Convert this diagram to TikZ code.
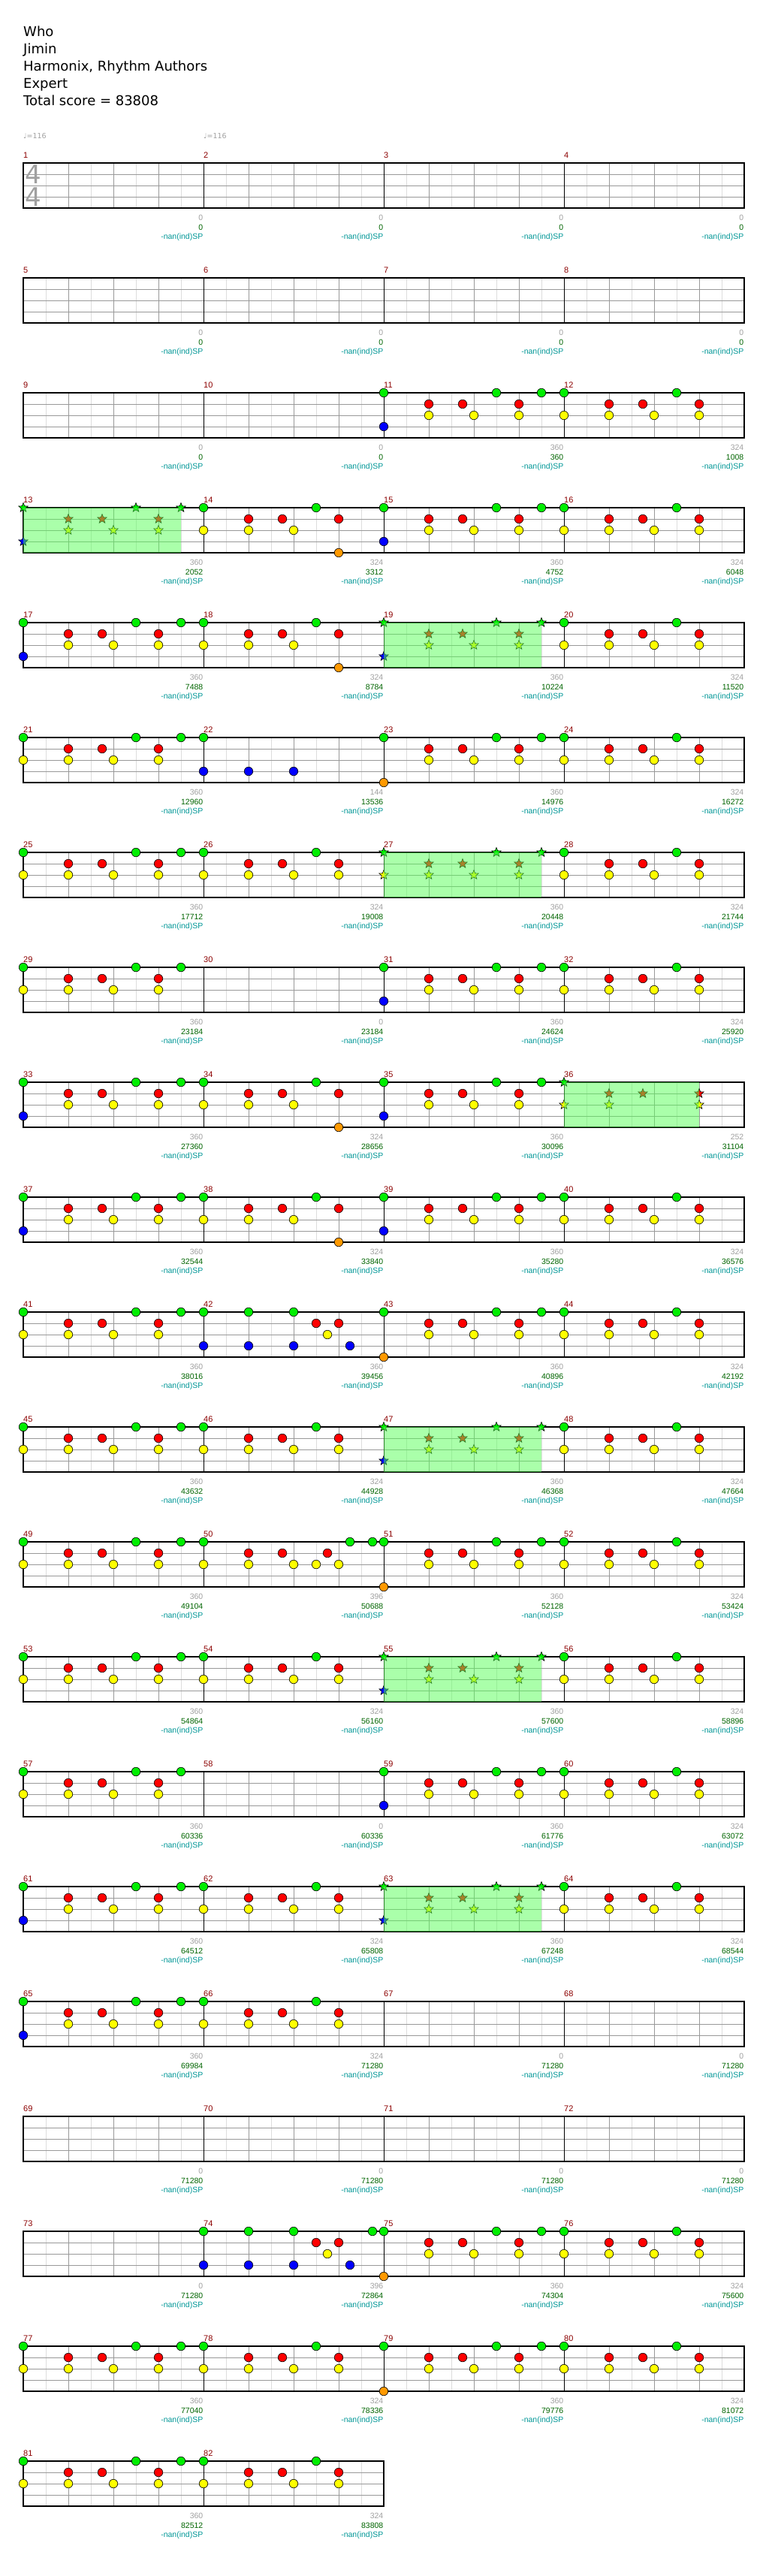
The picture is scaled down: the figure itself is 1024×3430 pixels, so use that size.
\documentclass[tikz,border=0pt]{standalone}
\usepackage{fontspec}
\setmainfont{DejaVu Sans}
\newfontfamily\numfont{Liberation Sans}
\usepackage{xcolor}
\definecolor{lane0}{RGB}{0,238,0}
\definecolor{lane1}{RGB}{255,0,0}
\definecolor{lane2}{RGB}{255,255,0}
\definecolor{lane3}{RGB}{0,0,255}
\definecolor{lane4}{RGB}{255,153,0}
\definecolor{bar-red}{RGB}{139,0,0}
\definecolor{base-gray}{RGB}{160,160,160}
\definecolor{score-green}{RGB}{0,100,0}
\definecolor{sp-teal}{RGB}{0,150,150}
\definecolor{sp-green}{RGB}{85,255,85}
\definecolor{beat-gray}{RGB}{153,153,153}
\definecolor{eighth-gray}{RGB}{221,221,221}
\usetikzlibrary{shapes.geometric}

% left end and top line of a measure
\newcommand{\setbar}[1]{%
	\pgfmathsetmacro\mx{31+240*mod(#1-1,4)}%
	\pgfmathsetmacro\my{217+153*int((#1-1)/4)}}

\begin{document}
\begin{tikzpicture}[x=1pt,y=-1pt,
	note/.style={circle,draw=black,line width=.6pt,minimum size=11.5pt,inner sep=0pt},
	spnote/.style={star,star points=5,star point ratio=2.3,draw=black,line width=.6pt,minimum size=13pt,inner sep=0pt},
	n0/.style={note,fill=lane0},  n1/.style={note,fill=lane1},
	n2/.style={note,fill=lane2},  n3/.style={note,fill=lane3},
	n4/.style={note,fill=lane4},
	s0/.style={spnote,fill=lane0},s1/.style={spnote,fill=lane1},
	s2/.style={spnote,fill=lane2},s3/.style={spnote,fill=lane3},
	eighth/.style={eighth-gray,line width=1pt},
	beat/.style={beat-gray,line width=1pt},
	barline/.style={black,line width=1pt},
	staff/.style={black,line width=1.4pt},
	sp/.style={fill=sp-green,fill opacity=.5},
	head/.style={font=\fontsize{18}{22}\selectfont,anchor=base west,inner sep=0pt},
	tempo/.style={font=\fontsize{9.5}{11}\selectfont,text=base-gray,anchor=base west,inner sep=0pt},
	timesig/.style={font=\fontsize{34}{36}\selectfont,text=base-gray,inner sep=0pt},
	barno/.style={font=\numfont\fontsize{11}{13}\selectfont,text=bar-red,anchor=base west,inner sep=0pt},
	basept/.style={font=\numfont\fontsize{10.5}{12}\selectfont,text=base-gray,anchor=base east,inner sep=0pt},
	total/.style={font=\numfont\fontsize{10.5}{12}\selectfont,text=score-green,anchor=base east,inner sep=0pt},
	spval/.style={font=\numfont\fontsize{10.5}{12}\selectfont,text=sp-teal,anchor=base east,inner sep=0pt}]
	
	\useasboundingbox (0,0) rectangle (1024,3430);
	
	\foreach \txt [count=\i] in {Who,Jimin,{Harmonix, Rhythm Authors},Expert,Total score = 83808}
		\node[head] (head\i) at (31,25+23*\i) {\txt};
	
	\node[tempo] (bpm1) at (31,184) {♩=116};
	\node[tempo] (bpm2) at (271,184) {♩=116};
	
	% staves
	\foreach \r in {0,...,20}{
		\pgfmathsetmacro\ry{217+153*\r}
		\pgfmathtruncatemacro\rw{\r==20 ? 480 : 960}
		\foreach \x in {30,90,...,\rw}
			\draw[eighth] (31+\x,\ry) -- ++(0,60);
		\foreach \x in {60,120,...,\rw}
			\draw[beat] (31+\x,\ry) -- ++(0,60);
		\foreach \k in {1,2,3}
			\draw[beat] (31,\ry+15*\k) -- ++(\rw,0);
		\foreach \x in {240,480,...,\rw}
			\draw[barline] (31+\x,\ry) -- ++(0,60);
		\draw[staff] (31,\ry) rectangle ++(\rw,60);
	}
	
	\node[timesig] (ts1) at (44,232) {4};
	\node[timesig] (ts2) at (44,262) {4};
	
	% notes, one loop per figure
	\foreach \m in {11,15,17,31,33,35,37,39,59,61,65}{
		\setbar{\m}
		\foreach \ti/\la in {0/0,0/3,4/1,4/2,7/1,8/2,10/0,12/1,12/2,14/0}
			\node[n\la] (n\m-\ti-\la) at (\mx+15*\ti,\my+15*\la) {};
	}
	\foreach \m in {21,25,29,41,45,49,53,57,77,81}{
		\setbar{\m}
		\foreach \ti/\la in {0/0,0/2,4/1,4/2,7/1,8/2,10/0,12/1,12/2,14/0}
			\node[n\la] (n\m-\ti-\la) at (\mx+15*\ti,\my+15*\la) {};
	}
	\foreach \m in {23,43,51,75,79}{
		\setbar{\m}
		\foreach \ti/\la in {0/0,0/4,4/1,4/2,7/1,8/2,10/0,12/1,12/2,14/0}
			\node[n\la] (n\m-\ti-\la) at (\mx+15*\ti,\my+15*\la) {};
	}
	\foreach \m in {12,16,20,24,26,28,32,40,44,46,48,52,54,56,60,62,64,66,76,78,80,82}{
		\setbar{\m}
		\foreach \ti/\la in {0/0,0/2,4/1,4/2,7/1,8/2,10/0,12/1,12/2}
			\node[n\la] (n\m-\ti-\la) at (\mx+15*\ti,\my+15*\la) {};
	}
	\foreach \m in {14,18,34,38}{
		\setbar{\m}
		\foreach \ti/\la in {0/0,0/2,4/1,4/2,7/1,8/2,10/0,12/1,12/4}
			\node[n\la] (n\m-\ti-\la) at (\mx+15*\ti,\my+15*\la) {};
	}
	\setbar{22}
	\foreach \ti/\la in {0/0,0/3,4/3,8/3}
		\node[n\la] (n22-\ti-\la) at (\mx+15*\ti,\my+15*\la) {};
	\setbar{42}
	\foreach \ti/\la in {0/0,0/3,4/0,4/3,8/0,8/3,10/1,11/2,12/1,13/3}
		\node[n\la] (n42-\ti-\la) at (\mx+15*\ti,\my+15*\la) {};
	\setbar{74}
	\foreach \ti/\la in {0/0,0/3,4/0,4/3,8/0,8/3,10/1,11/2,12/1,13/3,15/0}
		\node[n\la] (n74-\ti-\la) at (\mx+15*\ti,\my+15*\la) {};
	\setbar{50}
	\foreach \ti/\la in {0/0,0/2,4/1,4/2,7/1,8/2,10/2,11/1,12/2,13/0,15/0}
		\node[n\la] (n50-\ti-\la) at (\mx+15*\ti,\my+15*\la) {};
	
	% star power phrases
	\foreach \m in {13,19,47,55,63}{
		\setbar{\m}
		\foreach \ti/\la in {0/0,0/3,4/1,4/2,7/1,8/2,10/0,12/1,12/2,14/0}
			\node[s\la] (n\m-\ti-\la) at (\mx+15*\ti,\my+15*\la) {};
	}
	\setbar{27}
	\foreach \ti/\la in {0/0,0/2,4/1,4/2,7/1,8/2,10/0,12/1,12/2,14/0}
		\node[s\la] (n27-\ti-\la) at (\mx+15*\ti,\my+15*\la) {};
	\setbar{36}
	\foreach \ti/\la in {0/0,0/2,4/1,4/2,7/1,12/1,12/2}
		\node[s\la] (n36-\ti-\la) at (\mx+15*\ti,\my+15*\la) {};
	
	\foreach \m/\w in {13/210,19/210,27/210,36/180,47/210,55/210,63/210}{
		\setbar{\m}
		\fill[sp] (\mx,\my) rectangle ++(\w,60);
	}
	
	% measure numbers and scores
	\foreach \m/\b/\s in {1/0/0,2/0/0,3/0/0,4/0/0,5/0/0,6/0/0,7/0/0,8/0/0,9/0/0,10/0/0,
		11/360/360,12/324/1008,13/360/2052,14/324/3312,15/360/4752,16/324/6048,
		17/360/7488,18/324/8784,19/360/10224,20/324/11520,21/360/12960,22/144/13536,
		23/360/14976,24/324/16272,25/360/17712,26/324/19008,27/360/20448,28/324/21744,
		29/360/23184,30/0/23184,31/360/24624,32/324/25920,33/360/27360,34/324/28656,
		35/360/30096,36/252/31104,37/360/32544,38/324/33840,39/360/35280,40/324/36576,
		41/360/38016,42/360/39456,43/360/40896,44/324/42192,45/360/43632,46/324/44928,
		47/360/46368,48/324/47664,49/360/49104,50/396/50688,51/360/52128,52/324/53424,
		53/360/54864,54/324/56160,55/360/57600,56/324/58896,57/360/60336,58/0/60336,
		59/360/61776,60/324/63072,61/360/64512,62/324/65808,63/360/67248,64/324/68544,
		65/360/69984,66/324/71280,67/0/71280,68/0/71280,69/0/71280,70/0/71280,
		71/0/71280,72/0/71280,73/0/71280,74/396/72864,75/360/74304,76/324/75600,
		77/360/77040,78/324/78336,79/360/79776,80/324/81072,81/360/82512,82/324/83808}{
		\setbar{\m}
		\node[barno] (no\m) at (\mx,\my-7) {\m};
		\node[basept] (base\m) at (\mx+239.5,\my+76) {\b};
		\node[total] (total\m) at (\mx+239.5,\my+89) {\s};
		\node[spval] (sp\m) at (\mx+239.5,\my+101.5) {-nan(ind)SP};
	}
\end{tikzpicture}
\end{document}
